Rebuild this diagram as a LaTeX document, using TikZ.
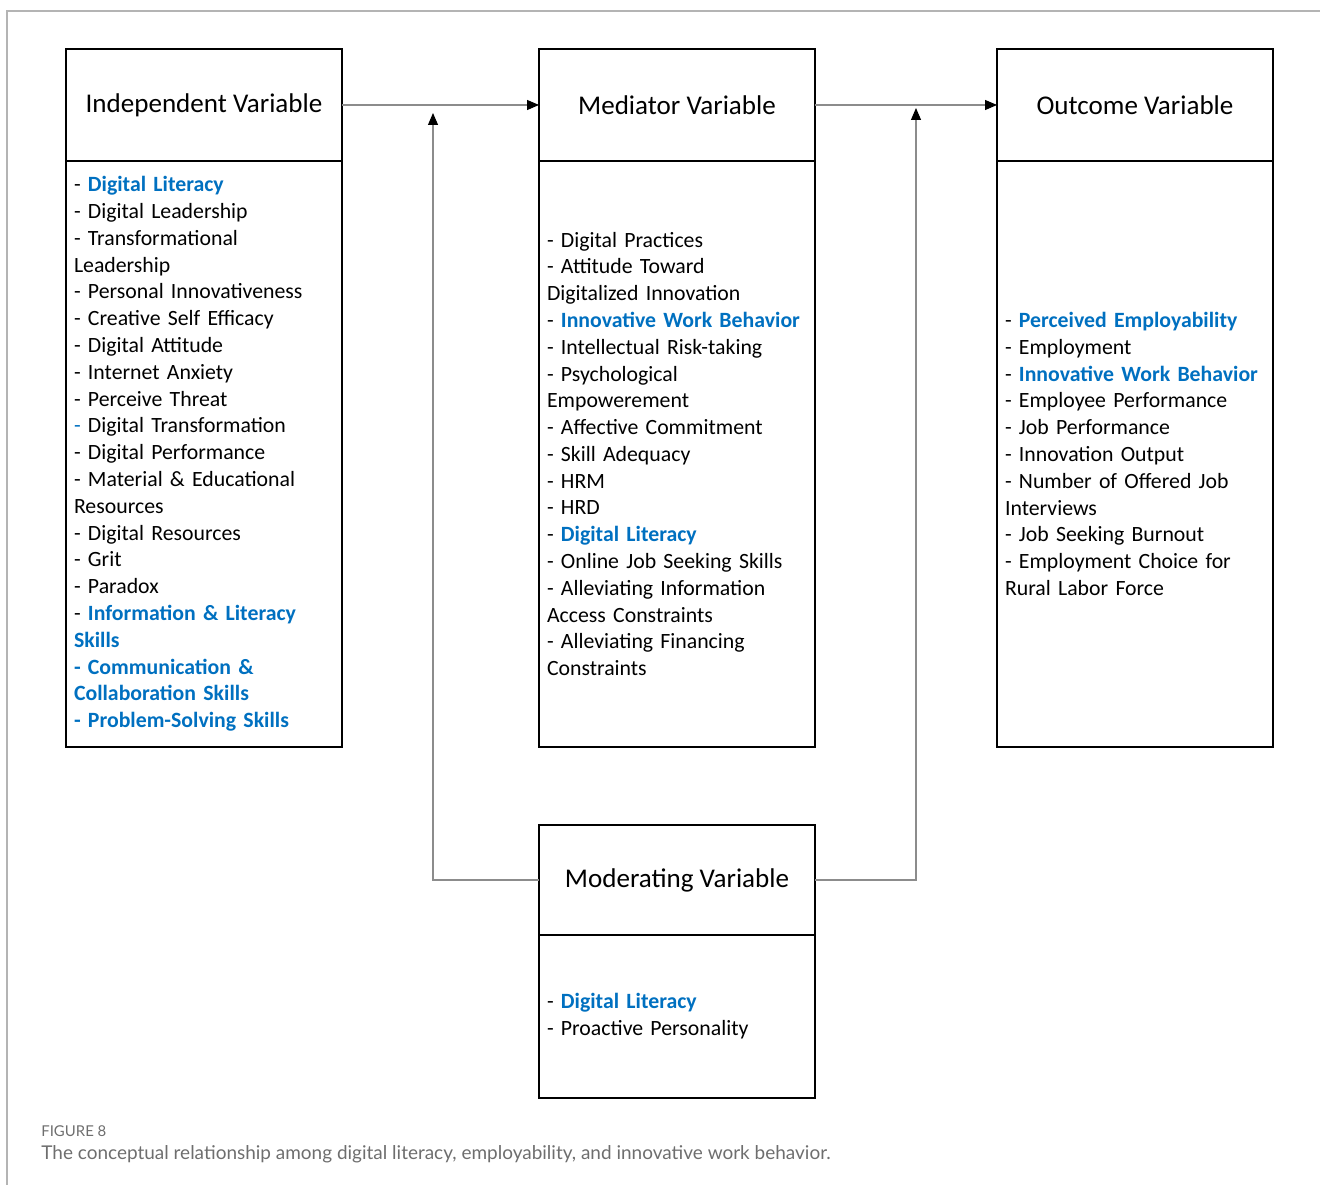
\documentclass[tikz,border=0pt]{standalone}
\usepackage{fontspec}
\setmainfont{Carlito}
\newfontfamily\capfont{Lato}
\usepackage{tikz}
\usepackage{xcolor}
\usetikzlibrary{arrows.meta}

\definecolor{keyblue}{HTML}{0070C0}
\definecolor{capgray}{HTML}{6E6E6E}
\definecolor{linegray}{HTML}{8C8C8C}
\definecolor{framegray}{HTML}{B4B4B4}

\tikzset{
  headbox/.style={draw, line width=0.9pt, outer sep=0pt, minimum width=5.52cm, minimum height=2.24cm,
    inner sep=0pt, font=\fontsize{15.4}{18}\selectfont},
  listbox/.style={draw, line width=0.9pt, outer sep=0pt, minimum width=5.52cm, text width=5.2cm,
    inner sep=0.16cm, align=left, font=\fontsize{12.4}{15.25}\selectfont},
  link/.style={draw=linegray, line width=0.6pt},
  tip/.style={-{Triangle[length=0.24cm, width=0.2cm, black]}},
}
\newcommand{\hl}[1]{\textcolor{keyblue}{\textbf{#1}}}

\begin{document}
\begin{tikzpicture}[x=0.02cm, y=-0.02cm]
                \useasboundingbox (0,0) rectangle (1320,1185);
                % Frame
                \draw[framegray, line width=0.8pt] (7,1185) -- (7,11) -- (1320,11);
                
                % Headers
                \node[headbox] (indep) at (204,105) {Independent Variable};
                \node[headbox] (medi) at (677,105) {Mediator Variable};
                \node[headbox] (outc) at (1135,105) {Outcome Variable};
                \node[headbox, minimum height=2.2cm] (moder) at (677,880) {Moderating Variable};
                
                % Lists
                \node[listbox, anchor=north, minimum height=11.72cm] (indepList) at (indep.south) {%
                  - \hl{Digital Literacy}\\
                  - Digital Leadership\\
                  - Transformational\\
                  Leadership\\
                  - Personal Innovativeness\\
                  - Creative Self Efficacy\\
                  - Digital Attitude\\
                  - Internet Anxiety\\
                  - Perceive Threat\\
                  \textcolor{keyblue}{-} Digital Transformation\\
                  - Digital Performance\\
                  - Material \& Educational\\
                  Resources\\
                  - Digital Resources\\
                  - Grit\\
                  - Paradox\\
                  - \hl{Information \& Literacy}\\
                  \hl{Skills}\\
                  \hl{- Communication \&}\\
                  \hl{Collaboration Skills}\\
                  \hl{- Problem-Solving Skills}};
                \node[listbox, anchor=north, minimum height=11.72cm] (mediList) at (medi.south) {%
                  - Digital Practices\\
                  - Attitude Toward\\
                  Digitalized Innovation\\
                  - \hl{Innovative Work Behavior}\\
                  - Intellectual Risk-taking\\
                  - Psychological\\
                  Empowerement\\
                  - Affective Commitment\\
                  - Skill Adequacy\\
                  - HRM\\
                  - HRD\\
                  - \hl{Digital Literacy}\\
                  - Online Job Seeking Skills\\
                  - Alleviating Information\\
                  Access Constraints\\
                  - Alleviating Financing\\
                  Constraints};
                \node[listbox, anchor=north, minimum height=11.72cm] (outcList) at (outc.south) {%
                  - \hl{Perceived Employability}\\
                  - Employment\\
                  - \hl{Innovative Work Behavior}\\
                  - Employee Performance\\
                  - Job Performance\\
                  - Innovation Output\\
                  - Number of Offered Job\\
                  Interviews\\
                  - Job Seeking Burnout\\
                  - Employment Choice for\\
                  Rural Labor Force};
                \node[listbox, anchor=north, minimum height=3.26cm] (moderList) at (moder.south) {%
                  - \hl{Digital Literacy}\\
                  - Proactive Personality};
                
                % Connectors
                \coordinate (tipL) at (433,113);
                \coordinate (tipR) at (916,108);
                \draw[link, tip] (indep.east) -- (medi.west);
                \draw[link, tip] (medi.east) -- (outc.west);
                \draw[link, tip] (moder.west) -| (tipL);
                \draw[link, tip] (moder.east) -| (tipR);
                
                % Caption
                \node[anchor=west, inner sep=0pt, text=capgray, font=\capfont\fontsize{8.5}{10}\selectfont] (figNum) at (41,1131) {FIGURE 8};
                \node[anchor=west, inner sep=0pt, text=capgray, font=\capfont\fontsize{10.8}{12}\selectfont] (figCap) at (41,1154) {The conceptual relationship among digital literacy, employability, and innovative work behavior.};
            \end{tikzpicture}
\end{document}
